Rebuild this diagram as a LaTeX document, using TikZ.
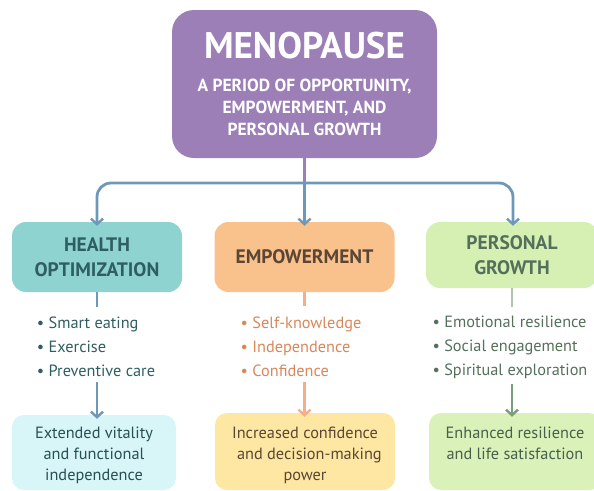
\documentclass[tikz,border=0pt]{standalone}
\usepackage{fontspec}
\setmainfont{PT Sans}
\usepackage{tikz}
\usetikzlibrary{positioning}
\usetikzlibrary{arrows.meta}
\definecolor{mp_purple}{HTML}{9B7FB6}
\definecolor{mp_blue}{HTML}{6E98B8}
\definecolor{hl_fill}{HTML}{8ED3CF}
\definecolor{hl_text}{HTML}{2F5E62}
\definecolor{hl_res}{HTML}{D8F6F8}
\definecolor{em_fill}{HTML}{F9C18C}
\definecolor{em_text}{HTML}{5B4636}
\definecolor{em_list}{HTML}{D9875A}
\definecolor{em_line}{HTML}{F5AE8A}
\definecolor{em_res}{HTML}{FDE7A2}
\definecolor{gr_fill}{HTML}{D6F0B4}
\definecolor{gr_text}{HTML}{55705A}
\definecolor{gr_line}{HTML}{7C9C7E}
\definecolor{gr_res}{HTML}{DAF2BA}
\tikzset{my_box/.style={rounded corners=14pt, inner sep=0pt, align=center}}
\tikzset{my_head/.style={my_box, minimum height=70pt, font=\fontsize{19.5}{25}\selectfont\bfseries}}
\tikzset{my_list/.style={inner sep=0pt, align=left, font=\fontsize{16.3}{24}\selectfont}}
\tikzset{my_result/.style={my_box, rounded corners=12pt, minimum height=75pt, text depth=5pt,
    font=\fontsize{16.3}{21}\selectfont}}
\tikzset{my_link/.style={line width=2.8pt, -{Straight Barb[length=5.5pt,width=12pt,line width=2.4pt]}}}
\tikzset{my_tick/.style={line width=2.8pt}}

\begin{document}
\begin{tikzpicture}[x=1pt, y=-1pt]
    \useasboundingbox (0,0) rectangle (594,490);
    % title box
    \node[my_box, fill=mp_purple, text=white, minimum width=265pt, minimum height=148pt,
          rounded corners=22pt, font=\fontsize{17.5}{22}\selectfont\bfseries] (top) at (304.5,84)
        {\fontsize{37}{40}\selectfont MENOPAUSE\\[11pt]
         A PERIOD OF OPPORTUNITY,\\
         EMPOWERMENT, AND\\ PERSONAL GROWTH};
    \coordinate (split) at (304.5,183);

    % the three branches
    \node[my_head, fill=hl_fill, text=hl_text, minimum width=170pt] (health) at (97,257)
        {HEALTH\\OPTIMIZATION};
    \node[my_head, fill=em_fill, text=em_text, minimum width=180pt] (empower) at (304.5,257)
        {EMPOWERMENT};
    \node[my_head, fill=gr_fill, text=gr_text, minimum width=172pt, minimum height=66pt] (growth) at (512,255)
        {PERSONAL\\GROWTH};

    \node[my_list, text=hl_text] (hlist) at (96,347)
        {\textbullet\ Smart eating\\\textbullet\ Exercise\\\textbullet\ Preventive care};
    \node[my_list, text=em_list] (elist) at (301,347)
        {\textbullet\ Self-knowledge\\\textbullet\ Independence\\\textbullet\ Confidence};
    \node[my_list, text=gr_text] (glist) at (510,347)
        {\textbullet\ Emotional resilience\\\textbullet\ Social engagement\\\textbullet\ Spiritual exploration};

    \node[my_result, fill=hl_res, text=hl_text!85!black, minimum width=164pt, text height=60pt] (hres) at (94,452.5)
        {Extended vitality\\and functional\\independence};
    \node[my_result, fill=em_res, text=em_text, minimum width=180pt, minimum height=77pt, text height=62pt] (eres) at (305,451.5)
        {Increased confidence\\\ \ and decision-making\\power};
    \node[my_result, fill=gr_res, text=gr_text!85!black, minimum width=172pt, minimum height=77pt,
          text height=20pt] (gres) at (515,451.5)
        {Enhanced resilience\\and life satisfaction};

    % connectors
    \draw[my_tick, mp_purple] (top.south) -- (split);
    \draw[my_link, mp_blue, rounded corners=14pt] (split) -| ([yshift=-4pt]health.north);
    \draw[my_link, mp_blue, rounded corners=14pt] (split) -| ([xshift=1pt, yshift=-4pt]growth.north);
    \draw[my_link, mp_blue] (split) -- ([yshift=-4pt]empower.north);

    \draw[my_tick, mp_blue] (health.south) -- ++(0,15);
    \draw[my_tick, em_line] (empower.south) -- ++(0,14);
    \draw[my_tick, gr_line!60] (growth.south) -- ++(0,19);

    \draw[my_link, mp_blue] (health.south |- hlist.south) ++(0,5) -- ([yshift=-4pt]health.south |- hres.north);
    \draw[my_link, em_line] (empower.south |- elist.south) ++(0,5) -- ([yshift=-4pt]empower.south |- eres.north);
    \draw[my_link, gr_line] (growth.south |- glist.south) ++(0,5) -- ([yshift=-4pt]growth.south |- gres.north);
\end{tikzpicture}
\end{document}
